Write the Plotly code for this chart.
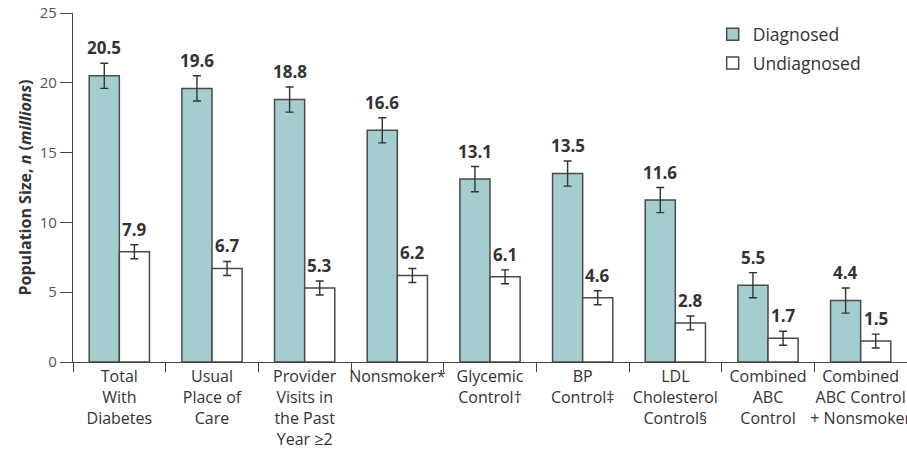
import plotly.graph_objects as go

categories = ["Total<br>With<br>Diabetes", "Usual<br>Place of<br>Care", "Provider<br>Visits in<br>the Past<br>Year ≥2",
              "Nonsmoker*", "Glycemic<br>Control†", "BP<br>Control‡", "LDL<br>Cholesterol<br>Control§",
              "Combined<br>ABC<br>Control", "Combined<br>ABC Control<br>+ Nonsmoker"]
diagnosed = [20.5, 19.6, 18.8, 16.6, 13.1, 13.5, 11.6, 5.5, 4.4]
diagnosed_err = [0.9, 0.9, 0.9, 0.9, 0.9, 0.9, 0.9, 0.9, 0.9]
undiagnosed = [7.9, 6.7, 5.3, 6.2, 6.1, 4.6, 2.8, 1.7, 1.5]
undiagnosed_err = [0.5, 0.5, 0.5, 0.5, 0.5, 0.5, 0.5, 0.5, 0.5]
y_ticks = [0, 5, 10, 15, 20, 25]

FONT = "Open Sans"
TXT = "#333333"

fig = go.Figure()
fig.add_trace(go.Bar(
    name="Diagnosed", x=categories, y=diagnosed, legendgroup="d",
    marker=dict(color="#a4cdd0", line=dict(color="#4a4a4a", width=1.5)),
    error_y=dict(type="data", array=diagnosed_err, color="#333333", thickness=1.4, width=4),
))
fig.add_trace(go.Bar(
    name="Undiagnosed", x=categories, y=undiagnosed, legendgroup="u",
    marker=dict(color="#ffffff", line=dict(color="#4a4a4a", width=1.5)),
    error_y=dict(type="data", array=undiagnosed_err, color="#333333", thickness=1.4, width=4),
))

for c, v, e in zip(categories, diagnosed, diagnosed_err):
    fig.add_annotation(x=c, y=v + e, text=f"<b>{v:.1f}</b>", showarrow=False, yanchor="bottom",
                       xshift=-15, yshift=2, font=dict(family=FONT, size=17, color=TXT))
for c, v, e in zip(categories, undiagnosed, undiagnosed_err):
    fig.add_annotation(x=c, y=v + e, text=f"<b>{v:.1f}</b>", showarrow=False, yanchor="bottom",
                       xshift=15, yshift=2, font=dict(family=FONT, size=17, color=TXT))

fig.update_layout(
    width=907, height=454,
    margin=dict(l=73, r=0, t=13, b=92),
    barmode="group", bargap=0.35, bargroupgap=0,
    plot_bgcolor="white", paper_bgcolor="white",
    font=dict(family=FONT, color=TXT),
    legend=dict(x=0.767, y=0.99, xanchor="left", yanchor="top",
                font=dict(family=FONT, size=17.5, color=TXT), tracegroupgap=3,
                itemwidth=30, bgcolor="rgba(0,0,0,0)"),
    xaxis=dict(showline=True, linecolor="#444444", linewidth=1.2, automargin=False,
               ticks="outside", tickson="boundaries", ticklen=9, tickcolor="#444444", tickangle=0,
               tickfont=dict(family=FONT, size=16, color=TXT), showgrid=False),
    yaxis=dict(range=[0, 25], tickvals=y_ticks, showline=True, linecolor="#444444", linewidth=1.2,
               automargin=False,
               ticks="outside", ticklen=12, tickcolor="#444444", showgrid=False, zeroline=False,
               tickfont=dict(family=FONT, size=15, color="#555555"),
               title=dict(text="<b>Population Size, <i>n</i> (<i>millions</i>)</b>",
                          font=dict(family=FONT, size=16, color=TXT), standoff=4)),
)

fig.write_html("out.html", config={"displayModeBar": False},
               post_script="document.body.style.margin='0';")
